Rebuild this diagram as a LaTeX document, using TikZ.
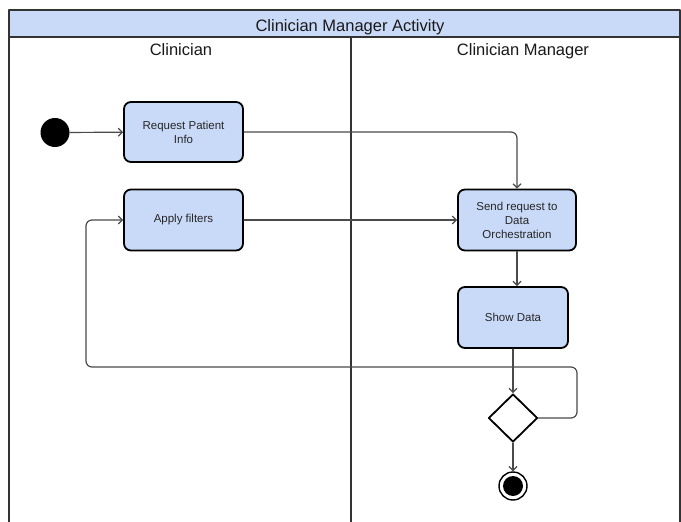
\documentclass[tikz,border=0pt]{standalone}
\usepackage{fontspec}
\setmainfont{Liberation Sans}
\usepackage{tikz}
\usetikzlibrary{arrows.meta}
\usetikzlibrary{shapes.geometric}
\definecolor{actblue}{HTML}{C9DAF8}
\definecolor{lanegray}{HTML}{333333}
\definecolor{flowgray}{HTML}{4A4A4A}

\begin{document}
\begin{tikzpicture}[line cap=round,line join=round,>={Straight Barb[length=4pt,width=8pt]},x=1pt,y=-1pt,
  action/.style={draw=black,line width=1.8pt,fill=actblue,rounded corners=7pt,align=center,text=black!85,
    font=\fontsize{11.5}{14}\selectfont,inner sep=0pt},
  flow/.style={->,draw=flowgray,line width=1.2pt,rounded corners=6pt},
  lane/.style={draw=lanegray,line width=1.5pt},
  heading/.style={font=\fontsize{16.5}{19}\selectfont,text=black!90,inner sep=0pt,anchor=base}]
\useasboundingbox (0,0) rectangle (681,522);
\fill[white] (0,0) rectangle (681,522);
\draw[lane,fill=actblue] (9,10) rectangle (680,37);
\draw[lane] (9,37) -- (9,523);
\draw[lane] (351,37) -- (351,523);
\draw[lane] (680,37) -- (680,523);
\node[heading] (title) at (350,31.5) {Clinician Manager Activity};
\node[heading] (cliniciantitle) at (181,55) {Clinician};
\node[heading] (managertitle) at (523,55) {Clinician Manager};
\node[circle,fill=black,minimum size=29pt,inner sep=0pt] (start) at (55,132.5) {};
\node[action,minimum width=119pt,minimum height=60pt] (request) at (183.5,132) {Request Patient\\Info};
\node[action,minimum width=119pt,minimum height=61pt] (filters) at (183.5,220) {Apply filters};
\node[action,minimum width=118pt,minimum height=61pt] (send) at (517,220) {Send request to\\Data\\Orchestration};
\node[action,minimum width=110pt,minimum height=61pt] (show) at (513,317.5) {Show Data};
\node[diamond,draw=black,line width=1.8pt,fill=white,minimum width=49pt,minimum height=48pt,inner sep=0pt] (decide) at (513,418) {};
\node[circle,draw=black,line width=1.4pt,minimum size=28pt,inner sep=0pt] (stop) at (513,486) {};
\node[circle,fill=black,minimum size=20pt,inner sep=0pt] (stopdot) at (stop) {};
\coordinate (loopa) at (577,418);
\coordinate (loopb) at (577,367);
\coordinate (loopc) at (86,367);
\coordinate (loopd) at (86,220);
\draw[flow] (start) -- (request);
\draw[flow] (request.east) -| (send.north);
\draw[flow] (filters.east) -- (send.west);
\draw[flow] (send.south) -- (send.south |- show.north);
\draw[flow] (show.south) -- (decide.north);
\draw[flow] (decide.east) -- (loopa) -- (loopb) -- (loopc) -- (loopd) -- (filters.west);
\draw[flow] (decide.south) -- (stop.north);
\end{tikzpicture}
\end{document}
